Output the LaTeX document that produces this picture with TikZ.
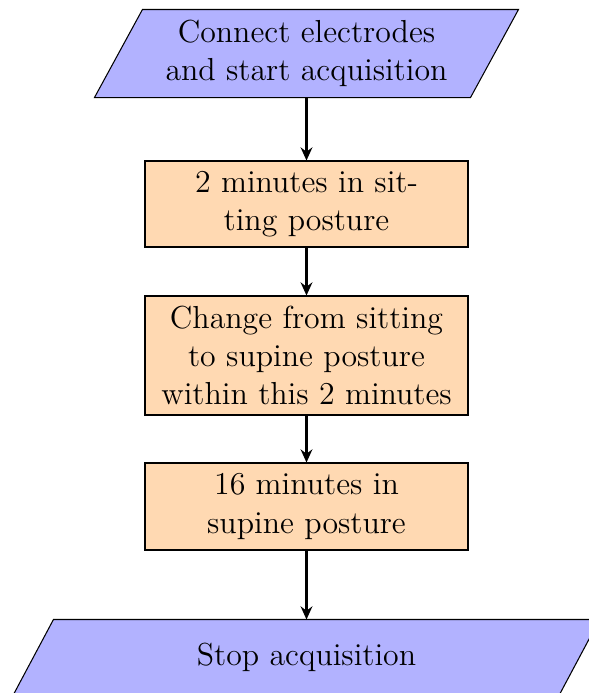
\documentclass[tikz,border=0pt]{standalone}
\usepackage{fontspec}
\usetikzlibrary{arrows.meta,backgrounds}

% one unit = one pixel of the layout grid, y pointing down
\def\pxl{0.3831pt}

\tikzset{
  every node/.style={font=\fontsize{12.2pt}{14.6pt}\selectfont, align=center, inner sep=0pt},
  process/.style={draw=black, fill=orange!30, minimum width={323*\pxl}},
  io/.style={minimum height={87*\pxl}},
  flow/.style={-{Stealth[length=5pt,width=4.5pt]}, thick},
  iofill/.style={draw=black, fill=blue!30},
}

\begin{document}
\begin{tikzpicture}[x=\pxl, y=-\pxl]
  \useasboundingbox (0,0) rectangle (589,693);

  % input / output steps (text only; the slanted outline is drawn below)
  \node[io, minimum width={375*\pxl}] (start) at (306.5,53.5)
    {Connect electrodes\\and start acquisition};
  \node[minimum width={545*\pxl}, minimum height={74*\pxl}] (stop) at (306.5,657)
    {Stop acquisition};

  % process steps
  \node[process, minimum height={86*\pxl}] (sit) at (306.5,204)
    {2 minutes in sit-\\ting posture};
  \node[process, minimum height={119*\pxl}] (change) at (306.5,355.5)
    {Change from sitting\\to supine posture\\within this 2 minutes};
  \node[process, minimum height={87*\pxl}] (supine) at (306.5,506.5)
    {16 minutes in\\supine posture};

  % parallelogram outlines behind the text
  \begin{scope}[on background layer]
    \draw[iofill] ([xshift={24*\pxl}]start.north west) -- ([xshift={24*\pxl}]start.north east)
      -- ([xshift={-24*\pxl}]start.south east) -- ([xshift={-24*\pxl}]start.south west) -- cycle;
    \draw[iofill] ([xshift={20*\pxl}]stop.north west) -- ([xshift={20*\pxl}]stop.north east)
      -- ([xshift={-20*\pxl}]stop.south east) -- ([xshift={-20*\pxl}]stop.south west) -- cycle;
  \end{scope}

  % connectors
  \draw[flow] (start.south) -- (sit.north);
  \draw[flow] (sit.south) -- (change.north);
  \draw[flow] (change.south) -- (supine.north);
  \draw[flow] (supine.south) -- (stop.north);
\end{tikzpicture}
\end{document}
